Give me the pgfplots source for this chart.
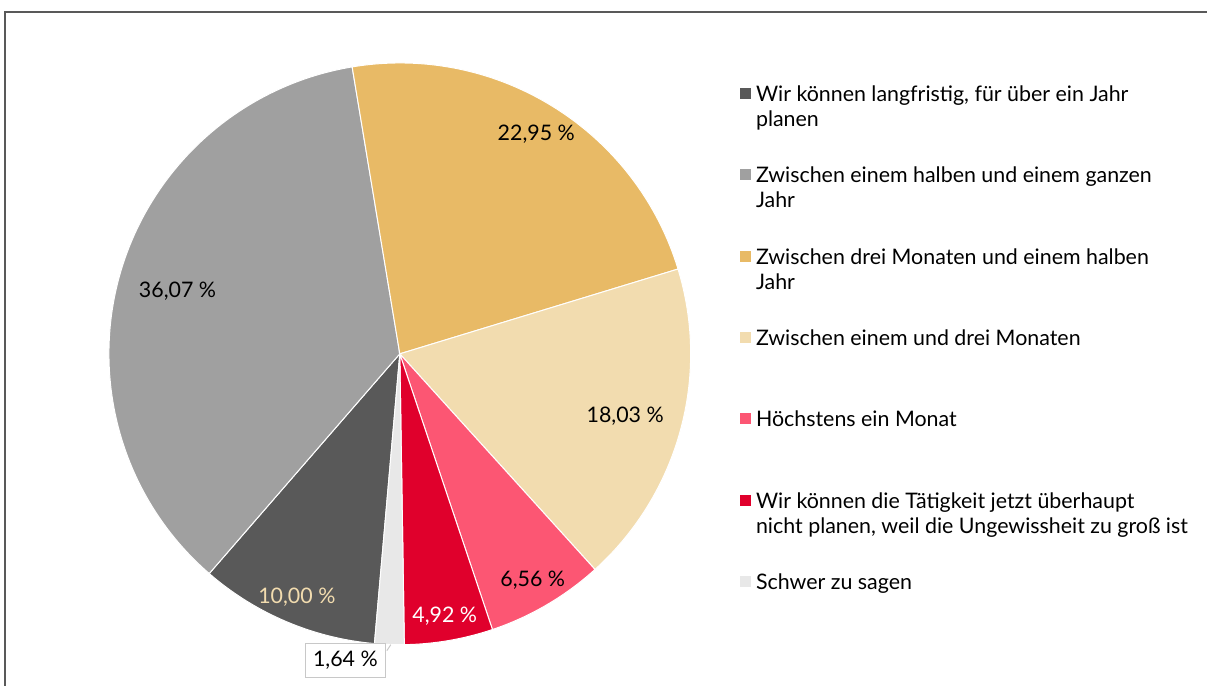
\documentclass[border=0pt]{standalone}
\usepackage{fontspec}
\setmainfont{Lato}
\usepackage{pgfplots}
\usepackage{pgfplotstable}
\pgfplotsset{compat=1.18}
\definecolor{cDark}{HTML}{595959}
\definecolor{cGray}{HTML}{A0A0A0}
\definecolor{cYellow}{HTML}{E8BA66}
\definecolor{cBeige}{HTML}{F2DCAF}
\definecolor{cPink}{HTML}{FC5673}
\definecolor{cRed}{HTML}{E0002C}
\definecolor{cLight}{HTML}{E8E8E8}
\definecolor{cBox}{HTML}{C8C8C8}
\definecolor{cFrame}{HTML}{595959}

\pgfplotstableread[col sep=comma]{
value,color,lblcol,fac,dphi,boxed
10.00,cDark,cBeige,0.907,0,0
36.07,cGray,black,0.794,0,0
22.95,cYellow,black,0.89,0,0
18.03,cBeige,black,0.804,0,0
6.56,cPink,black,0.904,0,0
4.92,cRed,white,0.914,0,0
1.64,cLight,black,1.071,8,1
}\piedata

\newcommand{\startphi}{185}
\newcommand{\Rpt}{145.5}
\newcommand{\fs}{\fontsize{10.7pt}{12.5pt}\selectfont}
\pgfkeys{/pgf/number format/assume math mode=true}

% precompute angles, colours and label texts
\gdef\pietot{0}
\foreach \i in {0,...,6}{
  \pgfplotstablegetelem{\i}{value}\of\piedata
  \pgfmathsetmacro\pietmp{\pietot+\pgfplotsretval}
  \xdef\pietot{\pietmp}
}
\gdef\piecum{0}
\foreach \i in {0,...,6}{
  \pgfplotstablegetelem{\i}{value}\of\piedata \let\pieval\pgfplotsretval
  \pgfplotstablegetelem{\i}{fac}\of\piedata \let\piefac\pgfplotsretval
  \pgfplotstablegetelem{\i}{dphi}\of\piedata \let\piedphi\pgfplotsretval
  \pgfplotstablegetelem{\i}{color}\of\piedata \expandafter\xdef\csname pieC\i\endcsname{\pgfplotsretval}
  \pgfplotstablegetelem{\i}{lblcol}\of\piedata \expandafter\xdef\csname pieT\i\endcsname{\pgfplotsretval}
  \pgfmathprintnumberto[fixed, fixed zerofill, precision=2, use comma, assume math mode=true]{\pieval}\pietxt
  \expandafter\xdef\csname pieV\i\endcsname{\pietxt}
  \pgfmathsetmacro\pieA{90-(\startphi + \piecum/\pietot*360)}
  \pgfmathsetmacro\pieB{90-(\startphi + (\piecum+\pieval)/\pietot*360)}
  \pgfmathsetmacro\pieM{90-(\startphi + (\piecum+0.5*\pieval)/\pietot*360 + \piedphi)}
  \pgfmathsetmacro\pieL{\piefac*\Rpt}
  \expandafter\xdef\csname pieA\i\endcsname{\pieA}
  \expandafter\xdef\csname pieB\i\endcsname{\pieB}
  \expandafter\xdef\csname pieM\i\endcsname{\pieM}
  \expandafter\xdef\csname pieL\i\endcsname{\pieL}
  \pgfmathsetmacro\pietmp{\piecum+\pieval}
  \xdef\piecum{\pietmp}
}

\begin{document}
\begin{tikzpicture}
\begin{axis}[scale only axis, width=604pt, height=343pt,
  xmin=0, xmax=1208, ymin=0, ymax=686, hide axis, clip=false]
\path (axis cs:0,0) rectangle (axis cs:1208,686);
% frame
\draw[cFrame, line width=0.6pt] (axis cs:5,0) -- (axis cs:5,674) -- (axis cs:1208,674);
\pgfplotsinvokeforeach{0,...,6}{
  \fill[fill=\csname pieC#1\endcsname, draw=white, line width=0.5pt] (axis cs:400,332) -- ++(\csname pieA#1\endcsname:\Rpt pt)
    arc[start angle=\csname pieA#1\endcsname, end angle=\csname pieB#1\endcsname, radius=\Rpt pt] -- cycle;
}
\pgfplotsinvokeforeach{0,...,5}{
  \path (axis cs:400,332) ++(\csname pieM#1\endcsname:\csname pieL#1\endcsname pt)
    node[text=\csname pieT#1\endcsname, font=\fs, inner sep=0pt] {\csname pieV#1\endcsname~\%};
}
\pgfplotsinvokeforeach{6}{
  \path (axis cs:400,332) ++(\csname pieM#1\endcsname:\csname pieL#1\endcsname pt) node[draw=cBox, fill=white, line width=0.5pt,
      minimum width=40pt, minimum height=17pt, inner sep=0pt, text=\csname pieT#1\endcsname, font=\fs]
    {\csname pieV#1\endcsname~\%};
}
\draw[cBox, line width=0.5pt] (axis cs:387,35) -- (axis cs:391,41);
% legend
\fill[cDark]   (axis cs:740,587) rectangle (axis cs:751,598);
\node[anchor=base west, align=left, inner sep=0pt, font=\fs] at (axis cs:756,559.5) {Wir können langfristig, für über ein Jahr\\planen};
\fill[cGray]   (axis cs:740,505.5) rectangle (axis cs:751,516.5);
\node[anchor=base west, align=left, inner sep=0pt, font=\fs] at (axis cs:756,478) {Zwischen einem halben und einem ganzen\\Jahr};
\fill[cYellow] (axis cs:740,424) rectangle (axis cs:751,435);
\node[anchor=base west, align=left, inner sep=0pt, font=\fs] at (axis cs:756,396.5) {Zwischen drei Monaten und einem halben\\Jahr};
\fill[cBeige]  (axis cs:740,342.5) rectangle (axis cs:751,353.5);
\node[anchor=base west, align=left, inner sep=0pt, font=\fs] at (axis cs:756,340) {Zwischen einem und drei Monaten};
\fill[cPink]   (axis cs:740,261.5) rectangle (axis cs:751,272.5);
\node[anchor=base west, align=left, inner sep=0pt, font=\fs] at (axis cs:756,259) {Höchstens ein Monat};
\fill[cRed]    (axis cs:740,180) rectangle (axis cs:751,191);
\node[anchor=base west, align=left, inner sep=0pt, font=\fs] at (axis cs:756,152.5) {Wir können die Tätigkeit jetzt überhaupt\\nicht planen, weil die Ungewissheit zu groß ist};
\fill[cLight]  (axis cs:740,98.5) rectangle (axis cs:751,109.5);
\node[anchor=base west, align=left, inner sep=0pt, font=\fs] at (axis cs:756,96) {Schwer zu sagen};
\end{axis}
\end{tikzpicture}
\end{document}
